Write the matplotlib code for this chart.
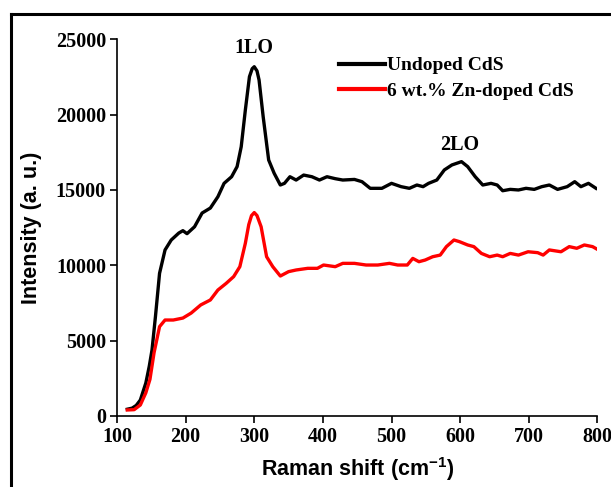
import matplotlib
import matplotlib.pyplot as plt
from matplotlib.lines import Line2D
matplotlib.use('agg')

plt.rcParams['mathtext.fontset'] = 'custom'
plt.rcParams['mathtext.rm'] = 'Liberation Sans:bold'
plt.rcParams['mathtext.default'] = 'regular'

# Raman shift (cm-1) / intensity
undoped_x = [115, 122, 128, 134, 142, 147, 151, 156, 162, 170, 179, 190, 196, 202, 213,
             224, 236, 247, 256, 267, 275, 281, 287, 293, 297, 300, 304, 307, 313, 321,
             329, 338, 344, 352, 361, 372, 384, 395, 406, 418, 429, 446, 457, 469, 486,
             500, 514, 526, 537, 546, 554, 566, 577, 588, 602, 611, 622, 633, 645, 654,
             662, 673, 685, 696, 708, 719, 730, 742, 756, 767, 776, 787, 798]
undoped_y = [450, 520, 700, 1060, 2190, 3300, 4380, 6590, 9470, 11020, 11680, 12140, 12300, 12100, 12560,
             13470, 13800, 14550, 15440, 15880, 16550, 17870, 20300, 22520, 23050, 23180, 22900, 22300, 19860, 16990,
             16110, 15330, 15440, 15880, 15660, 15990, 15880, 15660, 15880, 15750, 15660, 15700, 15550, 15110, 15110,
             15440, 15220, 15110, 15330, 15220, 15440, 15660, 16330, 16660, 16880, 16550, 15880, 15330, 15440, 15330,
             14950, 15040, 15000, 15110, 15040, 15220, 15330, 15040, 15220, 15550, 15220, 15440, 15110]

doped_x = [115, 125, 134, 142, 148, 154, 162, 170, 182, 196, 208, 222, 236, 247, 259,
           270, 279, 287, 292, 296, 300, 304, 310, 318, 327, 338, 350, 361, 378, 392,
           401, 418, 429, 446, 463, 480, 497, 509, 523, 531, 540, 549, 560, 571, 580,
           591, 599, 611, 620, 631, 643, 654, 662, 673, 685, 699, 713, 721, 730, 747,
           759, 770, 781, 793, 800]
doped_y = [400, 420, 730, 1540, 2430, 4200, 5930, 6370, 6370, 6500, 6830, 7370, 7700, 8360, 8800,
           9250, 9910, 11460, 12700, 13300, 13500, 13300, 12560, 10570, 9910, 9290, 9580, 9690, 9800, 9800,
           10020, 9910, 10130, 10130, 10020, 10020, 10130, 10020, 10020, 10460, 10240, 10350, 10570, 10680, 11240,
           11680, 11570, 11350, 11240, 10790, 10570, 10680, 10570, 10790, 10680, 10900, 10840, 10680, 11020, 10900,
           11240, 11130, 11350, 11240, 11060]

x_ticks = [100, 200, 300, 400, 500, 600, 700, 800]
y_ticks = [0, 5000, 10000, 15000, 20000, 25000]

serif = {'family': 'Liberation Serif', 'weight': 'bold'}
sans = {'family': 'Liberation Sans', 'weight': 'bold'}

fig = plt.figure(figsize=(6.11, 4.87), dpi=100)
ax = fig.add_axes([0.1915, 0.1458, 0.7862, 0.7735])

ax.plot(undoped_x, undoped_y, color='black', lw=2.4, label='Undoped CdS')
ax.plot(doped_x, doped_y, color='#ff0000', lw=2.4, label='6 wt.% Zn-doped CdS')

ax.set_xlim(100, 800)
ax.set_ylim(0, 25000)
ax.set_xticks(x_ticks)
ax.set_yticks(y_ticks)
ax.spines['top'].set_visible(False)
ax.spines['right'].set_visible(False)
for s in ('left', 'bottom'):
    ax.spines[s].set_linewidth(1.2)
ax.tick_params(direction='out', length=5, width=1.2, pad=3)
for lab in ax.get_xticklabels() + ax.get_yticklabels():
    lab.set_fontproperties(serif)
    lab.set_fontsize(14.5)
    lab.set_clip_on(False)

ax.set_xlabel(r'Raman shift (cm$^{-1}$)', fontsize=15.5, labelpad=6, **sans)
ax.set_ylabel('Intensity (a. u.)', fontsize=15.5, labelpad=10, **sans)

ax.text(300, 24400, '1LO', ha='center', va='center', fontsize=14.5, **serif)
ax.text(600, 18000, '2LO', ha='center', va='center', fontsize=14.5, **serif)

leg = ax.legend(loc='upper left', bbox_to_anchor=(0.425, 1.0), frameon=False,
                handlelength=2.4, handletextpad=0.1, labelspacing=0.4,
                prop={'family': 'Liberation Serif', 'weight': 'bold', 'size': 14})
for h in leg.get_lines():
    h.set_linewidth(3)

# outer frame (left and top edges visible)
fig.add_artist(Line2D([0.0172, 0.0172], [0, 0.9704], color='black', lw=2.2, transform=fig.transFigure))
fig.add_artist(Line2D([0.0172, 1.0], [0.9704, 0.9704], color='black', lw=2.2, transform=fig.transFigure))

fig.savefig('out.png', dpi=100)
